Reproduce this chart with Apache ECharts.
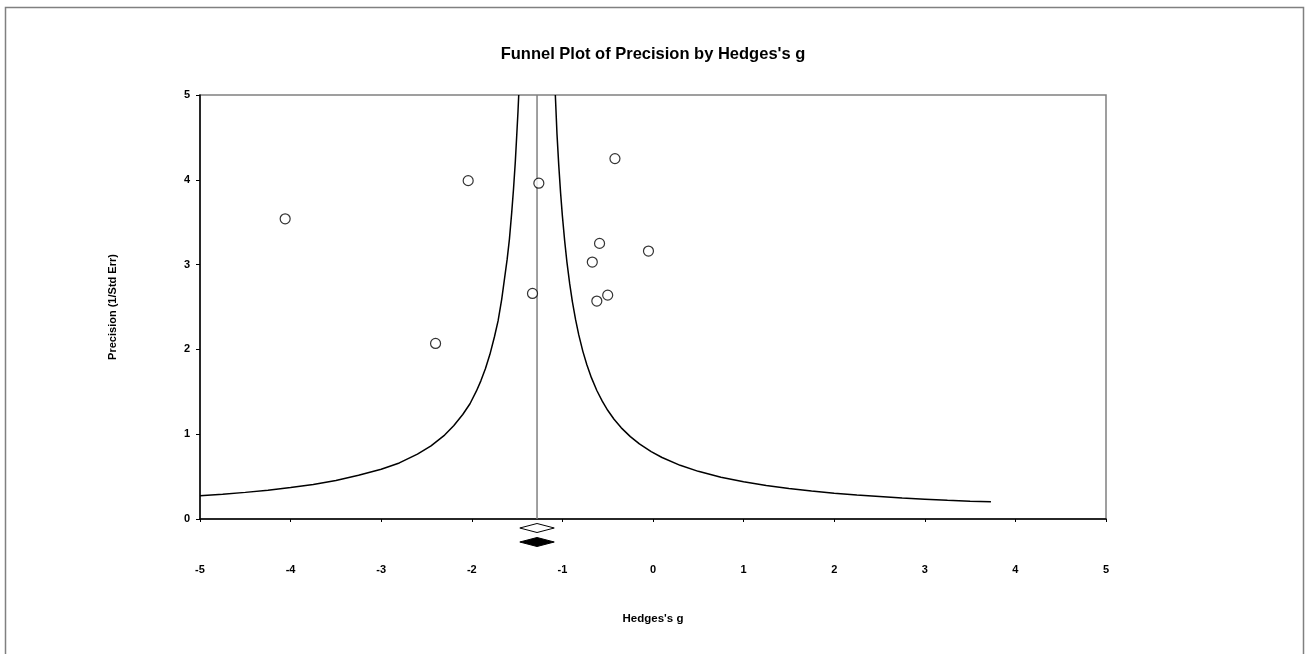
<!DOCTYPE html>
<html>
<head>
<meta charset="utf-8">
<script src="https://cdn.jsdelivr.net/npm/echarts@6/dist/echarts.min.js"></script>
<style>
html,body{margin:0;padding:0;background:#fff;}
#chart{width:1306px;height:654px;}
</style>
</head>
<body>
<div id="chart"></div>
<script>
// Study effects (Hedges's g) and precision (1/SE)
const studyG = [-4.06, -2.04, -1.26, -0.42, -0.59, -0.67, -0.05, -1.33, -0.50, -0.62, -2.40];
const studyPrecision = [3.54, 3.99, 3.96, 4.25, 3.25, 3.03, 3.16, 2.66, 2.64, 2.57, 2.07];

// Summary effect
const meanEffect = -1.28;
const summaryLabels = ['Observed', 'Adjusted'];
const summaryPoint = [-1.28, -1.28];
const summaryLower = [-1.47, -1.47];
const summaryUpper = [-1.09, -1.09];

// Funnel boundaries: [g, precision]
const funnelLeftG = [-5.00, -4.75, -4.50, -4.25, -4.00, -3.75, -3.50, -3.25, -3.00, -2.80, -2.60, -2.45, -2.30, -2.20, -2.10, -2.02, -1.95, -1.90, -1.85, -1.80, -1.75, -1.71, -1.67, -1.64, -1.61, -1.585, -1.56, -1.54, -1.52, -1.505, -1.49, -1.482];
const funnelLeftP = [0.275, 0.293, 0.314, 0.340, 0.371, 0.408, 0.455, 0.515, 0.587, 0.661, 0.765, 0.862, 0.990, 1.099, 1.232, 1.359, 1.507, 1.629, 1.772, 1.942, 2.149, 2.336, 2.590, 2.825, 3.061, 3.298, 3.607, 3.885, 4.208, 4.505, 4.809, 5.000];
const funnelRightG = [-1.078, -1.06, -1.04, -1.02, -1.00, -0.975, -0.95, -0.92, -0.89, -0.855, -0.82, -0.775, -0.73, -0.68, -0.62, -0.56, -0.50, -0.43, -0.35, -0.25, -0.15, -0.02, 0.10, 0.30, 0.50, 0.75, 1.00, 1.25, 1.50, 1.75, 2.00, 2.25, 2.50, 2.75, 3.00, 3.25, 3.50, 3.73];
const funnelRightP = [5.000, 4.545, 4.167, 3.846, 3.571, 3.279, 3.030, 2.778, 2.564, 2.353, 2.174, 1.980, 1.818, 1.667, 1.515, 1.389, 1.282, 1.176, 1.075, 0.971, 0.885, 0.794, 0.725, 0.633, 0.562, 0.493, 0.439, 0.396, 0.360, 0.330, 0.305, 0.283, 0.265, 0.248, 0.234, 0.221, 0.209, 0.202];

const xTicks = {min: -5, max: 5, interval: 1};
const yTicks = {min: 0, max: 5, interval: 1};

const chart = echarts.init(document.getElementById('chart'), null, {renderer: 'canvas'});
const font = '"Liberation Sans", Arial, sans-serif';

const studies = studyG.map((g, i) => [g, studyPrecision[i]]);
const leftFunnel = funnelLeftG.map((g, i) => [g, funnelLeftP[i]]);
const rightFunnel = funnelRightG.map((g, i) => [g, funnelRightP[i]]);
const summaries = summaryLabels.map((l, i) => [summaryPoint[i], summaryLower[i], summaryUpper[i], i]);

chart.setOption({
  animation: false,
  backgroundColor: '#fff',
  title: {
    text: "Funnel Plot of Precision by Hedges's g",
    left: 'center', top: 41,
    textStyle: {fontFamily: font, fontSize: 16.5, fontWeight: 'bold', color: '#000'}
  },
  graphic: [{
    type: 'rect', left: 3, top: 5, z: -10,
    shape: {width: 1298, height: 700},
    style: {fill: 'none', stroke: '#808080', lineWidth: 1.5}
  }],
  grid: {
    left: 200, right: 200, top: 95, bottom: 135,
    show: true, borderColor: '#808080', borderWidth: 1.5, backgroundColor: '#fff'
  },
  xAxis: {
    type: 'value', min: xTicks.min, max: xTicks.max, interval: xTicks.interval,
    name: "Hedges's g", nameLocation: 'middle', nameGap: 94,
    nameTextStyle: {fontFamily: font, fontSize: 11.5, fontWeight: 'bold', color: '#000'},
    axisLine: {show: true, onZero: false, lineStyle: {color: '#000', width: 1.5}},
    axisTick: {show: true, length: 3, lineStyle: {color: '#000'}},
    axisLabel: {margin: 45, fontFamily: font, fontSize: 11, fontWeight: 'bold', color: '#000'},
    splitLine: {show: false}
  },
  yAxis: {
    type: 'value', min: yTicks.min, max: yTicks.max, interval: yTicks.interval,
    name: 'Precision (1/Std Err)', nameLocation: 'middle', nameGap: 82, nameRotate: 90,
    nameTextStyle: {fontFamily: font, fontSize: 11, fontWeight: 'bold', color: '#000'},
    axisLine: {show: true, onZero: false, lineStyle: {color: '#000', width: 1.5}},
    axisTick: {show: true, length: 4, lineStyle: {color: '#000'}},
    axisLabel: {margin: 10, fontFamily: font, fontSize: 11, fontWeight: 'bold', color: '#000'},
    splitLine: {show: false}
  },
  series: [
    {
      type: 'line', data: [[meanEffect, yTicks.min], [meanEffect, yTicks.max]],
      symbol: 'none', lineStyle: {color: '#808080', width: 1.5}, z: 2, silent: true
    },
    {
      type: 'line', data: leftFunnel, symbol: 'none', smooth: false,
      lineStyle: {color: '#000', width: 1.5}, z: 3, silent: true
    },
    {
      type: 'line', data: rightFunnel, symbol: 'none', smooth: false,
      lineStyle: {color: '#000', width: 1.5}, z: 3, silent: true
    },
    {
      type: 'scatter', data: studies, symbol: 'circle', symbolSize: 10,
      itemStyle: {color: '#fff', borderColor: '#000', borderWidth: 1.2}, z: 5
    },
    {
      type: 'custom', clip: false, z: 6, silent: true,
      data: summaries,
      renderItem: function (params, api) {
        const c = api.coord([api.value(0), 0]);
        const lo = api.coord([api.value(1), 0]);
        const hi = api.coord([api.value(2), 0]);
        const row = api.value(3);
        const cy = c[1] + 9 + row * 14;
        const h = 4.5;
        return {
          type: 'polygon',
          shape: {points: [[lo[0], cy], [c[0], cy - h], [hi[0], cy], [c[0], cy + h]]},
          style: {fill: row === 0 ? '#fff' : '#000', stroke: '#000', lineWidth: 1}
        };
      }
    }
  ]
});
</script>
</body>
</html>
